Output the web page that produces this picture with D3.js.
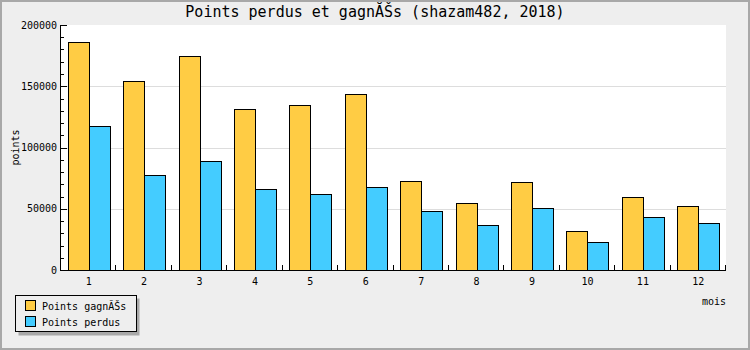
<!DOCTYPE html>
<html>
<head>
<meta charset="utf-8">
<script src="https://cdn.jsdelivr.net/npm/d3@7"></script>
<style>
body { margin: 0; padding: 0; background: #eeeeee; }
svg { display: block; }
text { font-family: "DejaVu Sans Mono", monospace; fill: #000; }
</style>
</head>
<body>
<svg id="chart" width="750" height="350"></svg>
<script>
const months = ["1","2","3","4","5","6","7","8","9","10","11","12"];
const seriesNames = ["Points gagnĂŠs", "Points perdus"];
const gagnes = [186000, 154000, 174700, 131200, 134400, 143500, 72400, 54500, 71600, 31600, 59300, 52000];
const perdus = [117300, 77500, 89000, 66100, 62000, 67600, 47900, 36500, 50300, 22600, 43000, 38100];
const yTicks = [0, 50000, 100000, 150000, 200000];
const colors = ["#ffcc44", "#44ccff"];
const titleText = "Points perdus et gagnĂŠs (shazam482, 2018)";
const xTitle = "mois";
const yTitle = "points";

const W = 750, H = 350;
const m = {left: 61, right: 24, top: 25, bottom: 80};
const pw = W - m.left - m.right, ph = H - m.top - m.bottom;

const svg = d3.select("#chart");
svg.append("rect").attr("x", 0).attr("y", 0).attr("width", W).attr("height", H).attr("fill", "#eeeeee");
svg.append("rect").attr("x", 1).attr("y", 1).attr("width", W - 2).attr("height", H - 2)
  .attr("fill", "none").attr("stroke", "#a8a8a8").attr("stroke-width", 2);

const x0 = d3.scaleBand().domain(months).range([m.left, m.left + pw]).paddingInner(0).paddingOuter(0);
const x1 = d3.scaleBand().domain(seriesNames).range([0, x0.bandwidth()]).paddingInner(0).paddingOuter(0.32);
const y = d3.scaleLinear().domain([0, 200000]).range([m.top + ph, m.top]);

// plot background
svg.append("rect").attr("x", m.left).attr("y", m.top).attr("width", pw).attr("height", ph).attr("fill", "#ffffff");

// grid
svg.append("g").selectAll("line").data(yTicks.filter(d => d > 0 && d < 200000)).join("line")
  .attr("x1", m.left).attr("x2", m.left + pw)
  .attr("y1", d => Math.round(y(d)) + 0.5).attr("y2", d => Math.round(y(d)) + 0.5)
  .attr("stroke", "#dddddd").attr("stroke-width", 1);

// bars
const data = months.map((mo, i) => ({mo, vals: [gagnes[i], perdus[i]]}));
const groups = svg.append("g").selectAll("g").data(data).join("g");
groups.selectAll("rect").data(d => d.vals.map((v, j) => ({mo: d.mo, v, j}))).join("rect")
  .attr("x", d => Math.round(x0(d.mo) + x1(seriesNames[d.j])) + 0.5)
  .attr("y", d => Math.round(y(d.v)) + 0.5)
  .attr("width", d => Math.round(x1.bandwidth()))
  .attr("height", d => Math.round(y(0)) - Math.round(y(d.v)))
  .attr("fill", d => colors[d.j]).attr("stroke", "#000").attr("stroke-width", 1);

// y axis
const yAxis = d3.axisLeft(y).tickValues(yTicks).tickSize(0).tickPadding(4).tickFormat(d3.format("d"));
const gy = svg.append("g").attr("transform", `translate(${m.left},0)`).call(yAxis);
gy.select(".domain").remove();
gy.selectAll("text").attr("font-size", 10).attr("font-family", "DejaVu Sans Mono");
svg.append("line").attr("x1", m.left - 0.5).attr("x2", m.left - 0.5).attr("y1", m.top).attr("y2", m.top + ph + 1).attr("stroke", "#000");
// y ticks inside
const minor = d3.range(0, 200001, 10000);
svg.append("g").selectAll("line").data(minor).join("line")
  .attr("x1", m.left).attr("x2", d => m.left + (d % 50000 === 0 ? 6 : 3))
  .attr("y1", d => Math.round(y(d)) + 0.5).attr("y2", d => Math.round(y(d)) + 0.5)
  .attr("stroke", "#000");

// x axis
const xAxis = d3.axisBottom(x0).tickSize(0).tickPadding(8);
const gx = svg.append("g").attr("transform", `translate(0,${m.top + ph})`).call(xAxis);
gx.select(".domain").remove();
gx.selectAll("text").attr("font-size", 10).attr("font-family", "DejaVu Sans Mono");
svg.append("line").attr("x1", m.left - 1).attr("x2", m.left + pw).attr("y1", m.top + ph + 0.5).attr("y2", m.top + ph + 0.5).attr("stroke", "#000");
svg.append("g").selectAll("line").data(months.slice(1).concat(["end"])).join("line")
  .attr("x1", d => Math.round(d === "end" ? m.left + pw : x0(d)) - 0.5)
  .attr("x2", d => Math.round(d === "end" ? m.left + pw : x0(d)) - 0.5)
  .attr("y1", m.top + ph).attr("y2", m.top + ph - 5).attr("stroke", "#000");

// titles
svg.append("text").attr("x", 375).attr("y", 17).attr("text-anchor", "middle")
  .attr("font-size", 15).attr("font-weight", "normal").text(titleText);
svg.append("text").attr("x", m.left + pw).attr("y", 305).attr("text-anchor", "end")
  .attr("font-size", 10).text(xTitle);
svg.append("text").attr("transform", `translate(19,${m.top + ph / 2}) rotate(-90)`)
  .attr("text-anchor", "middle").attr("font-size", 10).text(yTitle);

// legend
const lg = svg.append("g");
lg.append("rect").attr("x", 18.5).attr("y", 298.5).attr("width", 121).attr("height", 37).attr("fill", "#a8a8a8");
lg.append("rect").attr("x", 15.5).attr("y", 295.5).attr("width", 121).attr("height", 36)
  .attr("fill", "#eeeeee").attr("stroke", "#000");
seriesNames.forEach((s, i) => {
  lg.append("rect").attr("x", 25.5).attr("y", 300.5 + i * 16).attr("width", 10).attr("height", 10)
    .attr("fill", colors[i]).attr("stroke", "#000");
  lg.append("text").attr("x", 42).attr("y", 309.5 + i * 16).attr("font-size", 10).text(s);
});
</script>
</body>
</html>
